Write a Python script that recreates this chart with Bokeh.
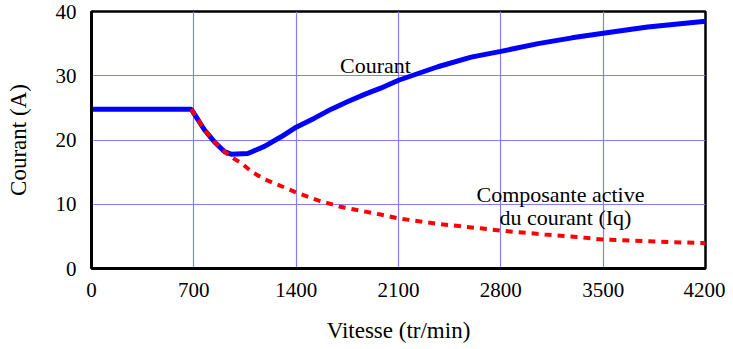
from bokeh.plotting import figure
from bokeh.models import FixedTicker, Range1d, Label
from bokeh.embed import file_html
from bokeh.resources import INLINE

# Data
speed_i = [0, 300, 682, 716, 772, 841, 909, 955, 1069, 1183, 1297, 1400, 1525, 1640, 1754, 1868, 1982, 2100, 2369, 2597, 2800, 3055, 3287, 3500, 3804, 4200]
courant = [24.8, 24.8, 24.8, 23.6, 21.6, 19.7, 18.2, 17.8, 17.9, 19.0, 20.5, 22.0, 23.4, 24.8, 26.0, 27.1, 28.1, 29.3, 31.4, 32.9, 33.8, 35.0, 35.9, 36.6, 37.6, 38.5]

speed_q = [682, 716, 772, 841, 909, 960, 1024, 1100, 1183, 1300, 1400, 1550, 1703, 1977, 2100, 2387, 2661, 2800, 3100, 3345, 3500, 3700, 3960, 4200]
iq = [24.8, 23.6, 21.6, 19.7, 18.2, 17.3, 16.4, 15.0, 13.9, 12.8, 11.85, 10.6, 9.6, 8.4, 7.8, 6.9, 6.25, 5.9, 5.3, 4.85, 4.5, 4.35, 4.1, 3.95]

x_ticks = [0, 700, 1400, 2100, 2800, 3500, 4200]
y_ticks = [0, 10, 20, 30, 40]

FONT = "Liberation Serif"

p = figure(width=725, height=345, output_backend="svg", toolbar_location=None,
           x_range=Range1d(0, 4200), y_range=Range1d(0, 40),
           min_border_left=91, min_border_right=20, min_border_top=11, min_border_bottom=76)

p.line(speed_i, courant, line_color="#0000ff", line_width=5)
p.line(speed_q, iq, line_color="#ff0000", line_width=4, line_dash="7 6")

for ax in (p.xaxis[0], p.yaxis[0]):
    ax.axis_line_color = "black"
    ax.axis_line_width = 3
    ax.major_tick_line_color = None
    ax.minor_tick_line_color = None
    ax.major_label_text_font = FONT
    ax.major_label_text_font_size = "21px"
    ax.major_label_text_color = "black"
    ax.axis_label_text_font = FONT
    ax.axis_label_text_font_size = "23px"
    ax.axis_label_text_font_style = "normal"
    ax.axis_label_text_color = "black"

p.xaxis.major_label_standoff = 8
p.yaxis.major_label_standoff = 9
p.xaxis.ticker = FixedTicker(ticks=x_ticks)
p.yaxis.ticker = FixedTicker(ticks=y_ticks)
p.xaxis.axis_label = "Vitesse (tr/min)"
p.yaxis.axis_label = "Courant (A)"
p.xaxis.axis_label_standoff = 18
p.yaxis.axis_label_standoff = 22

p.xgrid.ticker = FixedTicker(ticks=x_ticks)
p.ygrid.ticker = FixedTicker(ticks=y_ticks)
p.grid.grid_line_color = "#8080ff"
p.grid.grid_line_width = 1.2
p.grid.grid_line_alpha = 1.0

p.outline_line_color = "black"
p.outline_line_width = 2.5
p.outline_line_alpha = 1.0
p.background_fill_color = "white"
p.border_fill_color = "white"

p.add_layout(Label(x=1943, y=31.6, text="Courant", text_font=FONT, text_font_size="22px",
                   text_align="center", text_baseline="middle", text_color="black"))
p.add_layout(Label(x=3208, y=11.5, text="Composante active", text_font=FONT, text_font_size="22px",
                   text_align="center", text_baseline="middle", text_color="black"))
p.add_layout(Label(x=3242, y=7.9, text="du courant (Iq)", text_font=FONT, text_font_size="22px",
                   text_align="center", text_baseline="middle", text_color="black"))

open("out.html", "w").write(file_html(p, INLINE))
